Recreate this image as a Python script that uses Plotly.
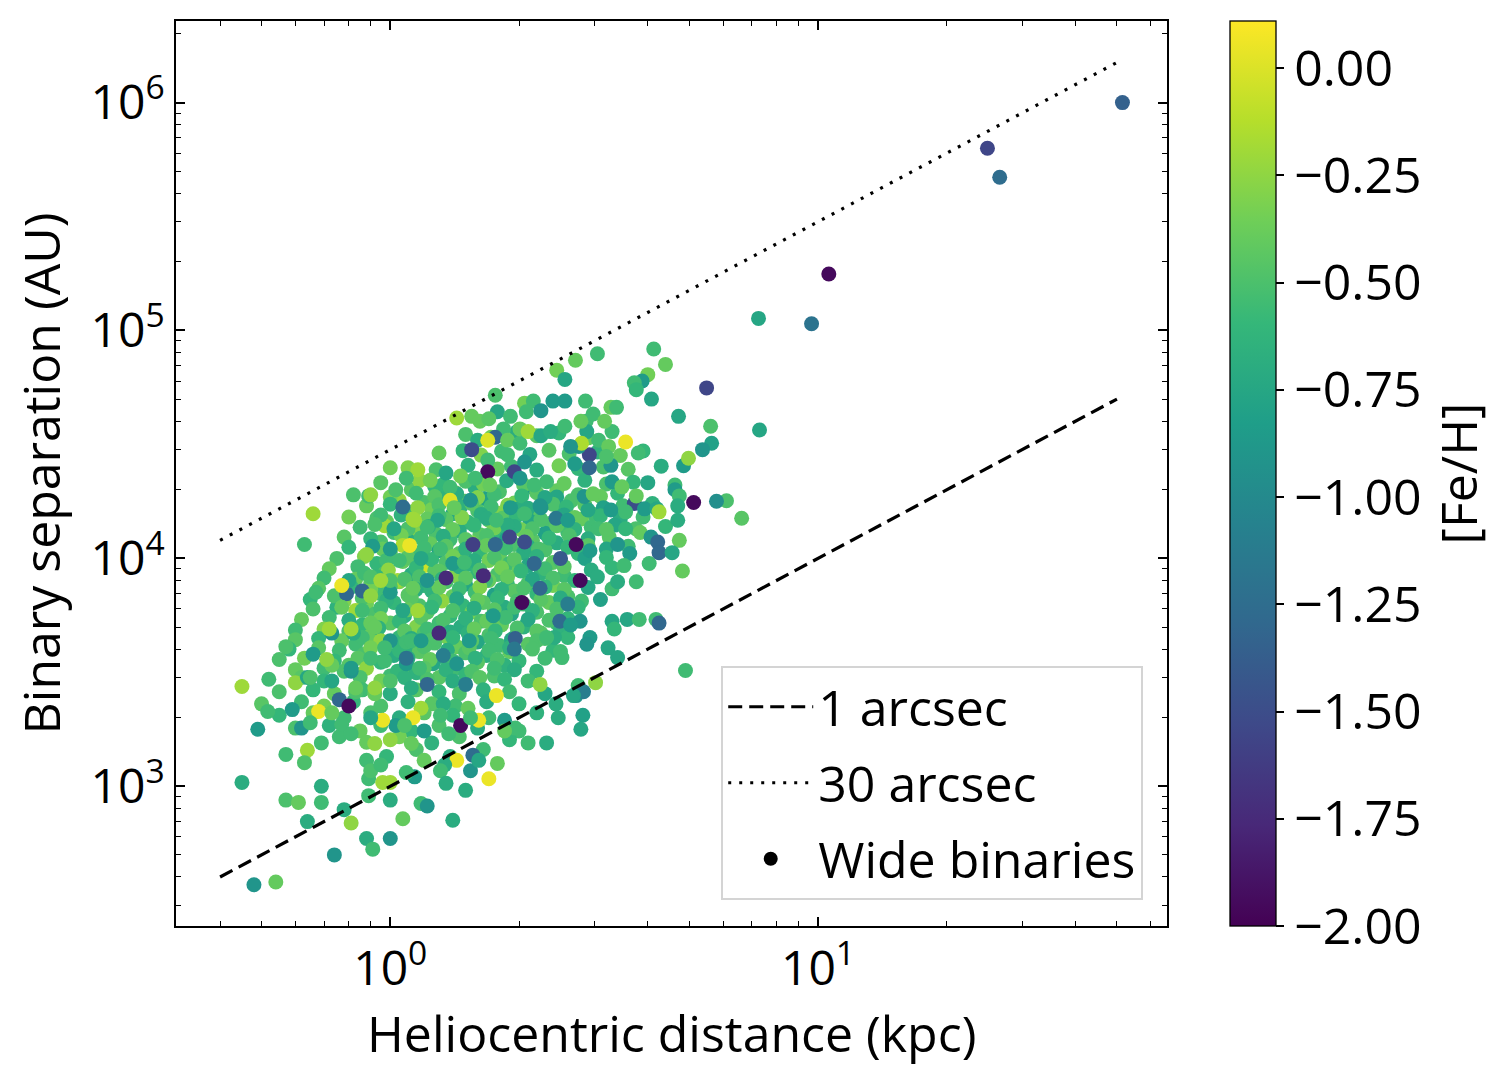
import plotly.graph_objects as go

# ---------------- data ----------------
# dense core of the cloud (drawn underneath)
core_dist = [
    1.12, 1.27, 1.42, 1.58, 1.8, 2.15, 2.45,
    1.05, 1.2, 1.33, 1.5, 1.66, 1.95, 2.3, 2.65,
    1.1, 1.25, 1.4, 1.6, 1.78, 2.0, 2.2, 2.5, 3.0,
    0.98, 1.18, 1.35, 1.52, 1.7, 1.9, 2.12, 2.38, 2.8,
    1.02, 1.15, 1.28, 1.45, 1.62, 1.82, 2.02, 2.3, 2.6,
    0.95, 1.1, 1.24, 1.38, 1.55, 1.72, 1.95, 2.15, 2.45,
    1.0, 1.14, 1.3, 1.45, 1.62, 1.8, 2.05, 2.3, 2.75,
    0.93, 1.07, 1.2, 1.35, 1.52, 1.7, 1.9, 2.1, 2.4,
    0.97, 1.12, 1.27, 1.42, 1.6, 1.78, 2.0, 2.25, 2.55,
    0.9, 1.05, 1.2, 1.35, 1.5, 1.7, 1.88, 2.1, 2.4,
    0.95, 1.1, 1.25, 1.4, 1.58, 1.75, 1.95, 2.2, 2.6,
    0.88, 1.02, 1.17, 1.32, 1.48, 1.65, 1.85, 2.05, 2.35,
    0.92, 1.08, 1.22, 1.38, 1.55, 1.72, 1.92, 2.2,
    0.86, 1.0, 1.15, 1.3, 1.46, 1.63, 1.82, 2.05, 2.45,
    0.9, 1.05, 1.2, 1.36, 1.52, 1.7, 1.95, 2.25,
    0.83, 0.98, 1.12, 1.27, 1.43, 1.6, 1.8, 2.1,
    0.87, 1.02, 1.17, 1.33, 1.5, 1.68, 1.9,
    0.8, 0.95, 1.1, 1.26, 1.42, 1.6, 1.85,
    0.85, 1.0, 1.15, 1.3, 1.5, 1.75,
]
core_sep = [
    2.0e4, 2.07e4, 1.94e4, 2.03e4, 1.96e4, 2.05e4, 1.98e4,
    1.8e4, 1.76e4, 1.85e4, 1.78e4, 1.83e4, 1.75e4, 1.82e4, 1.79e4,
    1.6e4, 1.64e4, 1.57e4, 1.62e4, 1.58e4, 1.65e4, 1.59e4, 1.63e4, 1.56e4,
    1.45e4, 1.42e4, 1.48e4, 1.44e4, 1.47e4, 1.41e4, 1.46e4, 1.43e4, 1.49e4,
    1.3e4, 1.33e4, 1.28e4, 1.32e4, 1.27e4, 1.31e4, 1.34e4, 1.29e4, 1.3e4,
    1.18e4, 1.2e4, 1.16e4, 1.21e4, 1.17e4, 1.19e4, 1.15e4, 1.2e4, 1.17e4,
    1.06e4, 1.04e4, 1.08e4, 1.05e4, 1.07e4, 1.03e4, 1.06e4, 1.09e4, 1.05e4,
    9.5e3, 9.7e3, 9.3e3, 9.6e3, 9.4e3, 9.8e3, 9.5e3, 9.3e3, 9.6e3,
    8.6e3, 8.5e3, 8.8e3, 8.4e3, 8.7e3, 8.5e3, 8.9e3, 8.6e3, 8.4e3,
    7.8e3, 7.9e3, 7.6e3, 7.9e3, 7.7e3, 8.0e3, 7.7e3, 7.8e3, 7.6e3,
    7.0e3, 6.9e3, 7.2e3, 6.8e3, 7.1e3, 6.9e3, 7.2e3, 7.0e3, 6.8e3,
    6.3e3, 6.4e3, 6.2e3, 6.5e3, 6.2e3, 6.4e3, 6.1e3, 6.3e3, 6.4e3,
    5.7e3, 5.6e3, 5.8e3, 5.6e3, 5.8e3, 5.5e3, 5.7e3, 5.8e3,
    5.1e3, 5.2e3, 5.0e3, 5.2e3, 5.0e3, 5.3e3, 5.1e3, 5.0e3, 5.2e3,
    4.6e3, 4.5e3, 4.7e3, 4.5e3, 4.7e3, 4.6e3, 4.5e3, 4.7e3,
    4.2e3, 4.3e3, 4.1e3, 4.25e3, 4.1e3, 4.3e3, 4.15e3, 4.2e3,
    3.8e3, 3.75e3, 3.9e3, 3.7e3, 3.85e3, 3.75e3, 3.9e3,
    3.4e3, 3.5e3, 3.35e3, 3.45e3, 3.3e3, 3.5e3, 3.4e3,
    3.1e3, 3.05e3, 3.15e3, 3.0e3, 3.1e3, 3.05e3,
]
core_feh = [
    -0.45, -0.6, -0.3, -0.7, -0.5, -0.8, -0.4,
    -0.25, -0.5, -0.65, -0.45, -0.8, -0.35, -0.6, -0.5,
    -0.55, -0.35, -0.75, -0.5, -0.3, -0.7, -0.45, -0.65, -0.55,
    -0.4, -0.65, -0.45, -0.6, -0.4, -0.55, -0.75, -0.5, -0.4,
    -0.55, -0.3, -0.5, -0.7, -0.45, -0.6, -0.35, -0.8, -0.55,
    -0.5, -0.7, -0.4, -0.55, -0.3, -0.65, -0.5, -0.45, -0.7,
    -0.35, -0.55, -0.8, -0.45, -0.6, -0.4, -0.7, -0.5, -0.6,
    -0.6, -0.4, -0.05, -0.5, -0.65, -0.35, -0.55, -0.75, -0.45,
    -0.5, -0.7, -0.45, -0.3, -0.6, -0.5, -0.4, -0.65, -0.55,
    -0.45, -0.3, -0.6, -0.5, -0.75, -0.4, -0.6, -0.5, -0.35,
    -0.55, -0.45, -0.65, -0.4, -0.55, -0.8, -0.45, -0.6, -0.5,
    -0.35, -0.6, -0.5, -0.25, -0.6, -0.45, -0.7, -0.55, -0.4,
    -0.5, -0.7, -0.45, -0.6, -0.35, -0.55, -0.75, -0.5,
    -0.6, -0.45, -0.3, -0.55, -0.7, -0.5, -0.4, -0.65, -0.55,
    -0.4, -0.6, -0.5, -0.35, -0.65, -0.5, -0.7, -0.45,
    -0.55, -0.35, -0.65, -0.5, -0.4, -0.75, -0.55, -0.45,
    -0.5, -0.7, -0.45, -0.6, -0.5, -0.65, -0.4,
    -0.45, -0.6, -0.4, -0.75, -0.55, -0.45, -0.65,
    -0.3, -0.55, -0.65, -0.45, -0.6, -0.5,
]

# second layer of the crowded cloud, between the rows above
fill_dist = [
    1.5, 1.72, 1.98, 2.2, 2.48, 2.9, 3.3,
    1.3, 1.48, 1.63, 1.82, 2.12, 2.35, 2.62, 3.05, 3.45, 3.9,
    1.1, 1.28, 1.52, 1.78, 1.92, 2.2, 2.48, 2.75, 3.15, 3.6, 4.3,
    0.95, 1.17, 1.33, 1.5, 1.65, 1.87, 2.05, 2.32, 2.55, 2.85, 3.2, 3.7,
    0.82, 1.0, 1.15, 1.27, 1.43, 1.6, 1.75, 2.03, 2.2, 2.45, 2.75, 3.1, 3.4,
    0.88, 1.0, 1.16, 1.3, 1.46, 1.55, 1.72, 1.88, 2.1, 2.4, 2.58, 2.85, 3.15, 3.5, 4.1,
    0.8, 0.93, 1.06, 1.22, 1.3, 1.47, 1.63, 1.83, 1.97, 2.25, 2.55, 2.7, 3.1, 3.45, 3.9,
    0.85, 0.97, 1.1, 1.23, 1.4, 1.57, 1.75, 1.95, 2.15, 2.45, 2.7, 2.95, 3.35, 3.75, 4.4,
    0.78, 0.9, 1.06, 1.18, 1.33, 1.5, 1.68, 1.87, 2.08, 2.35, 2.62, 2.9, 3.25,
    0.8, 0.96, 1.07, 1.2, 1.35, 1.5, 1.68, 1.86, 2.1, 2.22, 2.6, 2.9, 3.2, 3.6,
    0.75, 0.87, 0.98, 1.1, 1.25, 1.4, 1.57, 1.75, 1.95, 2.2, 2.5, 2.85, 3.2,
    0.72, 0.84, 0.99, 1.15, 1.3, 1.45, 1.62, 1.82, 2.02, 2.3, 2.55, 2.95, 3.3,
    0.7, 0.83, 0.93, 1.04, 1.17, 1.32, 1.5, 1.67, 1.88, 2.15, 2.4, 2.7, 3.05,
    0.68, 0.81, 0.9, 1.0, 1.15, 1.3, 1.45, 1.62, 1.82, 2.05, 2.3, 2.55, 2.9, 3.3,
    0.65, 0.78, 0.86, 0.98, 1.12, 1.27, 1.43, 1.6, 1.78, 1.98, 2.25, 2.5, 2.8, 3.1,
    0.66, 0.75, 0.83, 0.95, 1.1, 1.25, 1.4, 1.57, 1.75, 1.95, 2.15, 2.45, 2.75,
    0.62, 0.72, 0.8, 0.95, 1.05, 1.18, 1.33, 1.5, 1.68, 1.86, 2.1, 2.35, 2.6,
    0.6, 0.7, 0.8, 0.94, 1.08, 1.22, 1.38, 1.57, 1.76, 1.98, 2.2, 2.5,
    0.6, 0.68, 0.77, 0.86, 0.95, 1.12, 1.25, 1.4, 1.55, 1.72, 1.92, 2.2, 2.6,
    0.58, 0.68, 0.76, 0.9, 1.05, 1.2, 1.36, 1.53, 1.7, 1.9, 2.15, 2.4,
    0.55, 0.63, 0.74, 0.84, 0.97, 1.1, 1.24, 1.4, 1.58, 1.78, 2.0, 2.3,
    0.6, 0.7, 0.78, 0.88, 1.04, 1.2, 1.35, 1.55, 1.75, 1.95, 2.2,
    0.52, 0.62, 0.7, 0.85, 0.95, 1.08, 1.22, 1.4, 1.62, 1.85, 2.1,
    0.55, 0.66, 0.74, 0.86, 1.0, 1.15, 1.3, 1.45, 1.65, 1.9, 2.3,
    0.5, 0.62, 0.7, 0.82, 0.95, 1.1, 1.25, 1.42, 1.68, 2.0,
    0.55, 0.66, 0.78, 0.9, 1.05, 1.2, 1.4, 1.7, 2.2,
    0.6, 0.72, 0.85, 0.95, 1.12, 1.3, 1.6, 2.0,
    0.76, 1.05, 1.25, 1.45, 1.9,
    0.98, 1.15, 1.38, 1.65,
]
fill_sep = [
    3.5e4, 3.4e4, 3.6e4, 3.45e4, 3.55e4, 3.38e4, 3.6e4,
    2.9e4, 2.97e4, 2.84e4, 2.95e4, 2.86e4, 2.98e4, 2.88e4, 2.93e4, 2.83e4, 2.96e4,
    2.5e4, 2.45e4, 2.56e4, 2.47e4, 2.53e4, 2.44e4, 2.55e4, 2.48e4, 2.52e4, 2.46e4, 2.54e4,
    2.15e4, 2.2e4, 2.11e4, 2.18e4, 2.12e4, 2.19e4, 2.1e4, 2.17e4, 2.13e4, 2.2e4, 2.12e4, 2.16e4,
    1.9e4, 1.86e4, 1.93e4, 1.87e4, 1.92e4, 1.85e4, 1.91e4, 1.88e4, 1.94e4, 1.86e4, 1.9e4, 1.87e4, 1.93e4,
    1.7e4, 1.73e4, 1.67e4, 1.72e4, 1.68e4, 1.74e4, 1.69e4, 1.71e4, 1.66e4, 1.73e4, 1.68e4, 1.72e4, 1.67e4, 1.7e4, 1.74e4,
    1.52e4, 1.5e4, 1.55e4, 1.49e4, 1.54e4, 1.51e4, 1.56e4, 1.5e4, 1.53e4, 1.48e4, 1.55e4, 1.51e4, 1.54e4, 1.49e4, 1.52e4,
    1.37e4, 1.39e4, 1.35e4, 1.38e4, 1.34e4, 1.4e4, 1.36e4, 1.38e4, 1.35e4, 1.39e4, 1.34e4, 1.37e4, 1.4e4, 1.35e4, 1.38e4,
    1.24e4, 1.22e4, 1.26e4, 1.23e4, 1.25e4, 1.21e4, 1.26e4, 1.22e4, 1.25e4, 1.23e4, 1.26e4, 1.22e4, 1.24e4,
    1.12e4, 1.1e4, 1.14e4, 1.11e4, 1.13e4, 1.1e4, 1.14e4, 1.11e4, 1.13e4, 1.1e4, 1.12e4, 1.14e4, 1.1e4, 1.13e4,
    1.0e4, 1.02e4, 9.8e3, 1.01e4, 9.9e3, 1.02e4, 9.8e3, 1.01e4, 9.9e3, 1.02e4, 9.8e3, 1.0e4, 1.01e4,
    9.0e3, 9.2e3, 8.9e3, 9.1e3, 8.8e3, 9.2e3, 8.9e3, 9.1e3, 8.8e3, 9.0e3, 9.2e3, 8.9e3, 9.1e3,
    8.2e3, 8.1e3, 8.3e3, 8.0e3, 8.3e3, 8.1e3, 8.2e3, 8.0e3, 8.3e3, 8.1e3, 8.2e3, 8.0e3, 8.3e3,
    7.4e3, 7.5e3, 7.3e3, 7.5e3, 7.3e3, 7.45e3, 7.35e3, 7.5e3, 7.3e3, 7.4e3, 7.5e3, 7.3e3, 7.45e3, 7.35e3,
    6.6e3, 6.5e3, 6.7e3, 6.55e3, 6.7e3, 6.5e3, 6.65e3, 6.55e3, 6.7e3, 6.5e3, 6.6e3, 6.7e3, 6.5e3, 6.6e3,
    6.0e3, 6.1e3, 5.9e3, 6.05e3, 5.95e3, 6.1e3, 5.9e3, 6.05e3, 5.95e3, 6.1e3, 5.9e3, 6.0e3, 6.1e3,
    5.4e3, 5.5e3, 5.35e3, 5.45e3, 5.3e3, 5.5e3, 5.35e3, 5.45e3, 5.3e3, 5.5e3, 5.4e3, 5.35e3, 5.45e3,
    4.85e3, 4.9e3, 4.8e3, 4.95e3, 4.8e3, 4.9e3, 4.75e3, 4.9e3, 4.8e3, 4.95e3, 4.8e3, 4.85e3,
    4.4e3, 4.45e3, 4.35e3, 4.5e3, 4.35e3, 4.45e3, 4.4e3, 4.5e3, 4.35e3, 4.45e3, 4.4e3, 4.35e3, 4.5e3,
    4.0e3, 4.05e3, 3.95e3, 4.05e3, 3.95e3, 4.1e3, 3.95e3, 4.05e3, 3.95e3, 4.05e3, 4.0e3, 3.95e3,
    3.6e3, 3.65e3, 3.55e3, 3.65e3, 3.55e3, 3.65e3, 3.6e3, 3.55e3, 3.65e3, 3.6e3, 3.55e3, 3.65e3,
    3.25e3, 3.3e3, 3.2e3, 3.3e3, 3.2e3, 3.3e3, 3.25e3, 3.2e3, 3.3e3, 3.25e3, 3.2e3,
    2.95e3, 3.0e3, 2.9e3, 3.0e3, 2.9e3, 3.0e3, 2.95e3, 2.9e3, 3.0e3, 2.95e3, 2.9e3,
    2.6e3, 2.65e3, 2.55e3, 2.65e3, 2.55e3, 2.65e3, 2.6e3, 2.55e3, 2.65e3, 2.6e3, 2.55e3,
    2.3e3, 2.35e3, 2.25e3, 2.35e3, 2.25e3, 2.35e3, 2.3e3, 2.25e3, 2.35e3, 2.3e3,
    2.05e3, 2.1e3, 2.0e3, 2.1e3, 2.0e3, 2.1e3, 2.05e3, 2.0e3, 2.1e3,
    1.8e3, 1.85e3, 1.75e3, 1.85e3, 1.75e3, 1.85e3, 1.8e3, 1.75e3,
    1.65e3, 1.65e3, 1.55e3, 1.65e3, 1.6e3,
    1.35e3, 1.45e3, 1.35e3, 1.45e3,
]
fill_feh = [
    -0.5, -0.35, -0.7, -0.45, -0.6, -0.4, -0.55,
    -0.4, -0.6, -0.3, -0.55, -0.75, -0.45, -0.5, -0.65, -0.4, -0.6,
    -0.3, -0.5, -0.65, -0.4, -0.55, -0.7, -0.35, -0.6, -0.5, -0.45, -0.7,
    -0.45, -0.25, -0.6, -0.5, -0.35, -0.7, -0.45, -0.55, -0.4, -0.65, -0.5, -0.6,
    -0.5, -0.35, -0.55, -0.45, -0.7, -0.3, -0.55, -0.6, -0.45, -0.75, -0.5, -0.4, -0.6,
    -0.4, -0.6, -0.25, -0.5, -0.65, -0.45, -0.55, -0.3, -0.7, -0.5, -0.6, -0.45, -0.8, -0.55, -0.65,
    -0.35, -0.5, -0.65, -0.4, -0.55, -0.3, -0.7, -0.45, -0.6, -0.5, -0.75, -0.4, -0.6, -0.7, -0.55,
    -0.55, -0.2, -0.5, -0.65, -0.4, -0.6, -0.35, -0.7, -0.5, -0.45, -0.65, -0.55, -0.75, -0.5, -0.6,
    -0.45, -0.6, -0.35, -0.55, -0.7, -0.45, -0.5, -0.8, -0.4, -0.6, -0.5, -0.7, -0.45,
    -0.6, -0.4, -0.15, -0.55, -0.45, -0.65, -0.4, -0.55, -0.7, -0.5, -0.6, -0.45, -0.75, -0.55,
    -0.5, -0.3, -0.55, -0.45, -0.6, -0.35, -0.7, -0.5, -0.45, -0.65, -0.55, -0.8, -0.6,
    -0.4, -0.55, -0.25, -0.6, -0.45, -0.7, -0.5, -0.35, -0.6, -0.55, -0.45, -0.7, -0.6,
    -0.55, -0.4, -0.6, -0.2, -0.5, -0.65, -0.45, -0.55, -0.4, -0.75, -0.5, -0.6, -0.7,
    -0.45, -0.6, -0.35, -0.5, -0.7, -0.4, -0.55, -0.3, -0.65, -0.5, -0.6, -0.45, -0.75, -0.55,
    -0.6, -0.3, -0.5, -0.65, -0.45, -0.55, -0.75, -0.4, -0.6, -0.5, -0.45, -0.7, -0.55, -0.8,
    -0.5, -0.65, -0.2, -0.55, -0.4, -0.6, -0.5, -0.7, -0.45, -0.55, -0.65, -0.5, -0.6,
    -0.4, -0.55, -0.7, -0.35, -0.6, -0.45, -0.5, -0.65, -0.4, -0.55, -0.75, -0.5, -0.6,
    -0.55, -0.3, -0.5, -0.65, -0.45, -0.55, -0.7, -0.4, -0.6, -0.5, -0.45, -0.65,
    -0.45, -0.6, -0.4, -0.55, -0.25, -0.7, -0.5, -0.6, -0.45, -0.55, -0.75, -0.5, -0.6,
    -0.6, -0.45, -0.55, -0.35, -0.6, -0.5, -0.7, -0.45, -0.55, -0.65, -0.5, -0.6,
    -0.5, -0.35, -0.6, -0.45, -0.55, -0.7, -0.4, -0.55, -0.65, -0.5, -0.6, -0.55,
    -0.4, -0.55, -0.5, -0.25, -0.6, -0.45, -0.65, -0.5, -0.55, -0.7, -0.6,
    -0.55, -0.45, -0.6, -0.5, -0.35, -0.65, -0.5, -0.7, -0.45, -0.6, -0.55,
    -0.5, -0.6, -0.4, -0.55, -0.7, -0.45, -0.6, -0.5, -0.65, -0.55, -0.75,
    -0.45, -0.55, -0.35, -0.6, -0.5, -0.65, -0.45, -0.55, -0.7, -0.6,
    -0.6, -0.4, -0.55, -0.5, -0.7, -0.45, -0.6, -0.55, -0.65,
    -0.5, -0.65, -0.4, -0.55, -0.6, -0.5, -0.7, -0.55,
    -0.55, -0.35, -0.65, -0.5, -0.6,
    -0.6, -0.5, -0.7, -0.55,
]

# individually readable binaries (drawn on top)
field_dist = [
    51.5, 24.9, 26.6, 10.6, 7.26, 9.66, 5.49, 7.3, 6.63, 6.11,
    5.79, 5.12, 5.64, 5.37, 5.61, 4.72, 4.85, 4.9, 4.82, 4.13,
    4.4, 3.05, 4.0, 3.88, 3.72, 3.76, 4.08, 4.98, 3.55, 3.8,
    3.28, 2.92, 2.92, 3.3, 3.48, 4.0, 4.63, 4.63, 4.74, 4.7,
    4.7, 4.74, 3.72, 3.76, 3.93, 4.2, 4.25, 3.28, 3.55, 2.9,
    2.84, 2.98, 3.07, 3.2, 3.55, 3.84, 4.07, 4.22, 2.87, 2.98,
    3.17, 2.88, 3.28, 3.38, 2.86, 3.07, 3.24, 3.2, 2.76, 1.43,
    1.55, 1.76, 1.62, 1.78, 1.7, 1.91, 1.84, 1.76, 1.6, 1.55,
    1.69, 1.88, 2.01, 2.06, 2.16, 2.08, 2.01, 2.1, 2.25, 2.25,
    2.4, 2.56, 2.37, 2.56, 2.45, 2.56, 2.71, 2.79, 2.8, 2.64,
    1.69, 1.88, 2.06, 1.69, 1.95, 2.01, 1.35, 1.16, 1.24, 1.46,
    1.58, 1.71, 1.38, 2.17, 2.3, 2.25, 2.44, 2.6, 2.7, 2.72,
    2.5, 1.54, 1.38, 1.41, 1.91, 2.24, 2.06, 1.88, 1.68, 1.77,
    1.9, 2.06, 1.76, 1.56, 2.17, 1.35, 1.65, 2.78, 1.29, 1.22,
    1.14, 1.18, 1.4, 1.49, 1.31, 2.03, 1.3, 2.24, 2.49, 2.6,
    2.78, 1.96, 1.95, 1.74, 1.53, 1.33, 1.43, 1.5, 1.22, 1.77,
    2.24, 1.46, 1.56, 1.43, 2.5, 2.3, 2.42, 2.44, 2.47, 2.72,
    2.82, 2.32, 2.1, 1.96, 1.85, 1.85, 1.33, 1.31, 1.2, 1.37,
    1.52, 1.61, 1.54, 1.18, 1.78, 1.13, 1.54, 1.61, 1.34, 1.31,
    1.7, 1.35, 1.5, 1.2, 1.14, 1.09, 1.0, 1.0, 1.18, 1.22,
    1.4, 1.07, 1.0, 0.45, 0.517, 0.59, 0.49, 0.6, 0.64, 0.73,
    0.76, 0.8, 0.68, 0.73, 0.62, 0.65, 0.77, 0.81, 0.69, 0.64,
    0.57, 0.63, 0.45, 0.57, 0.61, 0.69, 0.69, 0.64, 0.78, 0.81,
    0.74, 0.48, 0.54, 0.88, 0.91, 0.89, 0.89, 0.96, 0.88, 0.9,
    0.95, 0.88, 0.92, 1.03, 0.96, 1.0, 1.08, 1.12, 0.9, 0.92,
    0.83, 0.81, 0.66, 0.63, 1.0, 1.09, 1.03, 0.89, 0.9, 1.07,
    0.95, 0.92, 1.02, 1.13, 0.91, 0.88, 1.0, 1.05, 1.11, 0.67,
    0.74, 0.79, 0.86, 0.8, 0.77, 0.87, 0.9, 0.77, 0.86, 0.9,
    1.0, 1.0, 1.07, 0.73, 0.82, 0.72, 0.81, 0.57, 0.66, 0.9,
    1.0, 1.09, 1.09, 0.73, 0.81, 0.9, 0.97, 0.95, 1.08, 1.13,
    1.22, 0.92, 1.16, 1.12, 1.18, 0.71, 1.09, 1.17, 0.65, 0.83,
    0.92, 1.0, 1.12, 2.93, 3.4, 3.63, 3.52, 3.4, 3.76, 4.03,
    4.25, 4.56, 2.64, 3.3, 3.34, 3.58, 3.82, 4.18, 4.25, 2.93,
    2.88, 3.23, 3.4, 2.52, 2.32, 3.02, 2.75, 2.83, 2.68, 2.79,
]
field_sep = [
    1.0e6, 6.3e5, 4.7e5, 1.77e5, 1.13e5, 1.07e5, 5.6e4, 3.66e4, 1.5e4, 1.79e4,
    1.78e4, 1.76e4, 3.2e4, 3.0e4, 3.8e4, 4.2e4, 2.55e4, 3.22e3, 8.8e3, 8.3e4,
    7.1e4, 7.9e4, 6.4e4, 6.0e4, 5.9e4, 5.5e4, 5.0e4, 2.75e4, 3.24e4, 2.9e4,
    2.56e4, 2.85e4, 2.5e4, 2.17e4, 2.06e4, 2.15e4, 2.1e4, 2.0e4, 1.88e4, 1.7e4,
    1.47e4, 1.2e4, 1.74e4, 1.88e4, 1.65e4, 1.65e4, 1.6e4, 1.63e4, 1.6e4, 1.63e4,
    1.87e4, 1.92e4, 1.35e4, 1.34e4, 1.35e4, 1.3e4, 1.24e4, 1.18e4, 4.0e4, 4.3e4,
    4.0e4, 3.6e4, 4.6e4, 4.6e4, 4.9e4, 3.3e4, 3.1e4, 2.8e4, 3.1e4, 4.13e4,
    4.2e4, 5.2e4, 4.0e4, 4.4e4, 4.1e4, 4.2e4, 3.7e4, 3.4e4, 3.3e4, 3.0e4,
    3.3e4, 3.3e4, 3.2e4, 4.8e4, 4.9e4, 4.4e4, 3.7e4, 3.6e4, 4.45e4, 3.45e4,
    4.9e4, 4.9e4, 3.6e4, 3.8e4, 6.7e4, 6.1e4, 7.4e4, 4.0e4, 3.2e4, 3.1e4,
    2.7e4, 2.85e4, 2.65e4, 2.4e4, 2.4e4, 2.25e4, 2.37e4, 2.45e4, 2.2e4, 2.3e4,
    2.25e4, 2.1e4, 2.05e4, 2.1e4, 1.85e4, 1.67e4, 1.5e4, 1.47e4, 2.6e4, 1.15e4,
    1.0e4, 1.8e4, 1.8e4, 1.67e4, 1.67e4, 1.7e4, 1.57e4, 1.4e4, 1.5e4, 1.47e4,
    1.24e4, 1.18e4, 1.15e4, 1.15e4, 9.5e3, 8.2e3, 8.4e3, 8.0e3, 1.47e4, 1.37e4,
    1.47e4, 1.0e4, 9.5e3, 9.6e3, 1.1e4, 6.4e3, 4.7e3, 7.4e3, 5.3e3, 6.3e3,
    5.3e3, 4.45e3, 4.0e3, 5.6e3, 4.35e3, 3.75e3, 3.45e3, 2.8e3, 2.8e3, 2.5e3,
    2.8e3, 1.85e3, 1.37e3, 1.3e3, 3.9e3, 4.45e3, 4.5e3, 2.3e3, 2.0e3, 2.5e3,
    2.05e3, 1.55e3, 1.55e3, 1.8e3, 1.95e3, 1.75e3, 2.3e3, 2.05e3, 1.75e3, 1.7e3,
    2.2e3, 1.95e3, 2.0e3, 2.2e3, 1.26e3, 2.0e3, 1.17e3, 1.3e3, 1.24e3, 1.17e3,
    1.08e3, 1.03e3, 960, 1.3e3, 1.1e3, 1.15e3, 1.04e3, 870, 840, 820,
    710, 720, 590, 2.74e3, 2.13e3, 2.17e3, 1.78e3, 2.85e3, 3.0e3, 2.9e3,
    2.4e3, 2.25e3, 2.13e3, 2.1e3, 1.8e3, 1.9e3, 1.87e3, 1.7e3, 1.55e3, 1.44e3,
    1.38e3, 1.27e3, 1.04e3, 870, 850, 1.0e3, 850, 700, 790, 690,
    500, 370, 380, 590, 530, 1.08e3, 910, 1.04e3, 1.3e3, 1.17e3,
    1.24e3, 1.56e3, 1.54e3, 1.85e3, 1.95e3, 1.6e3, 1.85e3, 1.54e3, 2.0e3, 2.55e3,
    2.6e3, 3.2e3, 1.57e4, 1.15e4, 2.5e4, 2.25e4, 2.0e4, 1.88e4, 1.9e4, 1.68e4,
    1.55e4, 1.41e4, 1.35e4, 1.49e4, 1.13e4, 1.04e4, 1.1e4, 9.8e3, 1.14e4, 7.1e3,
    6.85e3, 7.0e3, 7.2e3, 8.0e3, 7.6e3, 8.6e3, 8.3e3, 6.1e3, 5.9e3, 6.85e3,
    7.1e3, 8.0e3, 5.9e3, 4.7e3, 4.7e3, 4.9e3, 4.9e3, 4.1e3, 3.8e3, 5.2e3,
    4.35e3, 4.3e3, 3.45e3, 3.4e3, 3.3e3, 3.65e3, 4.05e3, 8.0e3, 8.1e3, 7.4e3,
    8.0e3, 5.0e3, 5.9e3, 4.35e3, 4.35e3, 3.6e3, 3.65e3, 3.3e3, 3.0e3, 2.7e3,
    2.7e3, 2.9e3, 2.7e3, 1.08e4, 1.15e4, 1.05e4, 9.3e3, 7.9e3, 7.9e3, 9.5e3,
    1.06e4, 1.06e4, 5.1e3, 5.3e3, 4.9e3, 5.4e3, 5.4e3, 5.4e3, 5.2e3, 4.5e3,
    4.2e3, 4.05e3, 3.67e3, 3.67e3, 4.5e3, 2.85e3, 2.77e3, 2.6e3, 2.5e3, 1.78e3,
]
field_feh = [
    -1.35, -1.55, -1.25, -1.95, -0.75, -1.2, -1.55, -0.75, -0.45, -0.5,
    -0.95, -1.95, -0.8, -0.9, -0.5, -0.75, -0.85, -0.55, -0.4, -0.55,
    -0.4, -0.55, -0.35, -0.85, -0.55, -0.6, -0.75, -0.25, 0.05, -0.55,
    -0.9, -1.55, -1.3, -0.85, -0.4, -0.75, -0.55, -0.85, -0.55, -0.7,
    -0.7, -0.4, -1.5, -0.4, -0.85, -0.75, -0.2, -0.85, -0.55, -0.75,
    -0.9, -0.4, -0.55, -0.45, -0.6, -0.4, -0.9, -1.3, -0.55, -0.55,
    -0.4, -0.75, -0.4, -0.55, -0.55, -0.55, -0.4, -0.5, -0.9, -0.2,
    -0.4, -0.5, -0.4, -0.75, -0.45, -0.55, -0.55, -1.3, -0.7, -1.5,
    0.0, -0.4, -0.55, -0.35, -0.55, -0.55, -0.4, -0.2, -0.9, -0.75,
    -0.85, -0.85, -0.7, -0.55, -0.35, -0.75, -0.4, -0.4, -0.15, -0.9,
    -0.55, -0.55, -0.9, -1.95, -1.55, -0.9, -0.75, -0.2, -0.35, -0.35,
    -0.55, -0.4, -0.55, -0.55, -0.75, -0.9, -1.15, -0.85, -0.85, -1.95,
    -1.4, -0.9, 0.0, -0.4, -0.85, -0.9, -0.55, -0.7, -0.7, -0.55,
    -1.55, -1.5, -1.3, -1.6, -1.3, -1.75, -1.75, -1.95, -0.75, -0.55,
    -0.2, -0.75, -0.85, -0.55, -0.55, -1.95, -1.75, -1.3, -1.25, -1.1,
    -0.9, -1.35, -1.15, -0.85, -0.85, -1.1, -0.9, -1.1, -1.3, 0.05,
    -0.25, -1.95, -1.25, 0.05, -0.55, -0.5, -0.7, -0.7, -0.7, -0.9,
    -0.8, -0.7, -0.55, -0.55, -0.85, -0.4, -0.7, -0.55, -0.85, -0.55,
    -0.4, 0.05, -0.55, -0.2, -0.4, 0.05, -0.9, -0.75, -0.7, -0.55,
    0.05, -0.7, -0.7, -0.4, -0.85, -0.55, -0.2, -0.7, -0.55, -0.9,
    -0.7, -0.4, -0.9, -0.2, -0.55, -0.85, -0.85, -0.25, -0.75, -0.75,
    -1.3, -1.95, 0.05, -0.4, -0.9, -0.55, -0.55, -0.55, -0.55, -0.2,
    -0.55, -0.5, -0.7, -0.5, -0.4, -0.7, -0.55, -0.7, -0.7, -0.25,
    -0.9, -0.9, -0.4, -0.7, -0.55, -0.55, -0.55, -0.2, -0.55, -0.5,
    -0.55, -0.4, -0.25, -0.85, 0.05, -0.25, -0.5, -0.4, -0.75, -0.4,
    -0.5, -0.9, -0.2, -0.55, -0.35, -0.55, -0.5, -0.55, -0.25, -1.25,
    -0.55, -0.5, -0.75, -0.2, -0.85, -0.25, -0.85, -0.55, 0.05, -0.55,
    -0.5, -1.3, -1.3, -0.75, 0.05, -0.55, -0.5, -0.4, -0.55, -0.25,
    -0.85, -0.5, -0.75, -0.9, -0.7, -0.2, -0.2, -0.5, -0.85, -0.4,
    -0.9, -0.55, -0.85, -0.4, -0.85, -0.55, -0.55, -0.2, -0.5, -0.4,
    -0.9, -0.4, -0.2, -0.55, -0.85, -0.25, -1.2, -0.55, -0.5, -0.4,
    -0.25, -0.5, -0.7, -0.85, -0.9, -0.85, -0.55, -0.7, -0.55, -0.55,
    -1.3, -0.75, -0.85, -0.75, -0.6, -0.75, -0.55, -0.55, -1.3, -0.85,
    -0.9, -0.75, -0.75, -0.55, -0.55, -0.25, -0.55, -1.1, -0.75, -0.75,
]

# angular-separation reference lines (separation = angle x distance)
line_dist = [0.4, 50.0]
sep_1arcsec = [400.0, 50000.0]
sep_30arcsec = [12000.0, 1.5e6]

# ticks
x_tickvals = [1, 10]
x_ticktext = ["10<sup>0</sup>", "10<sup>1</sup>"]
x_minor = [0.4, 0.5, 0.6, 0.7, 0.8, 0.9, 2, 3, 4, 5, 6, 7, 8, 9, 20, 30, 40, 50, 60]
y_tickvals = [1e3, 1e4, 1e5, 1e6]
y_ticktext = ["10<sup>3</sup>", "10<sup>4</sup>", "10<sup>5</sup>", "10<sup>6</sup>"]
y_minor = [300, 400, 500, 600, 700, 800, 900,
           2e3, 3e3, 4e3, 5e3, 6e3, 7e3, 8e3, 9e3,
           2e4, 3e4, 4e4, 5e4, 6e4, 7e4, 8e4, 9e4,
           2e5, 3e5, 4e5, 5e5, 6e5, 7e5, 8e5, 9e5, 2e6]
cb_tickvals = [0.0, -0.25, -0.5, -0.75, -1.0, -1.25, -1.5, -1.75, -2.0]
cb_ticktext = ["0.00", "\u22120.25", "\u22120.50", "\u22120.75", "\u22121.00",
               "\u22121.25", "\u22121.50", "\u22121.75", "\u22122.00"]

dist_kpc = core_dist + fill_dist + field_dist
sep_au = core_sep + fill_sep + field_sep
feh = core_feh + fill_feh + field_feh

FONT = "Open Sans"
FS = 50
TICK_FS = 48

fig = go.Figure()
fig.add_trace(go.Scatter(
    x=dist_kpc, y=sep_au, mode="markers", showlegend=False, hoverinfo="skip",
    marker=dict(
        size=15, color=feh, colorscale="Viridis", cmin=-2.0, cmax=0.11,
        line=dict(width=0),
        colorbar=dict(
            x=1.0636, xanchor="left", y=0.5, yanchor="middle",
            len=1.0, lenmode="fraction", thickness=46, thicknessmode="pixels",
            xpad=0, ypad=0,
            outlinewidth=1.3, outlinecolor="black",
            ticks="outside", ticklen=8, tickwidth=1.5, tickcolor="black",
            tickvals=cb_tickvals, ticktext=cb_ticktext,
            tickfont=dict(family=FONT, size=FS, color="black"),
            title=dict(text="[Fe/H]", side="right",
                       font=dict(family=FONT, size=FS, color="black")),
        ),
    ),
))
fig.add_trace(go.Scatter(
    x=line_dist, y=sep_1arcsec, mode="lines", name="1 arcsec", legendgroup="a",
    line=dict(color="black", width=3.2, dash="14px,7px"), hoverinfo="skip",
))
fig.add_trace(go.Scatter(
    x=line_dist, y=sep_30arcsec, mode="lines", name="30 arcsec", legendgroup="b",
    line=dict(color="black", width=3.2, dash="3px,8px"), hoverinfo="skip",
))
fig.add_trace(go.Scatter(
    x=[None], y=[None], mode="markers", name="Wide binaries", legendgroup="c",
    marker=dict(color="black", size=14),
))

axis_common = dict(
    type="log", showgrid=False, zeroline=False,
    showline=True, linecolor="black", linewidth=1.6, mirror="allticks",
    ticks="inside", ticklen=9, tickwidth=1.5, tickcolor="black",
    tickfont=dict(family=FONT, size=TICK_FS, color="black"),
)

fig.update_xaxes(
    **axis_common,
    range=[-0.501, 1.816],
    tickmode="array", tickvals=x_tickvals, ticktext=x_ticktext,
    minor=dict(tickmode="array", tickvals=x_minor, ticks="inside",
               ticklen=5, tickwidth=1.2, tickcolor="black", showgrid=False),
)
fig.update_yaxes(
    **axis_common,
    range=[2.387, 6.358],
    tickmode="array", tickvals=y_tickvals, ticktext=y_ticktext,
    minor=dict(tickmode="array", tickvals=y_minor, ticks="inside",
               ticklen=5, tickwidth=1.2, tickcolor="black", showgrid=False),
)

# axis titles placed as paper text so they sit where the original has them
fig.add_annotation(
    text="Heliocentric distance (kpc)", xref="paper", yref="paper",
    x=0.5, y=-0.118, xanchor="center", yanchor="middle", showarrow=False,
    font=dict(family=FONT, size=FS, color="black"),
)
fig.add_annotation(
    text="Binary separation (AU)", xref="paper", yref="paper",
    x=-0.1372, y=0.5, xanchor="center", yanchor="middle", showarrow=False,
    textangle=-90, font=dict(family=FONT, size=FS, color="black"),
)

# the page adds an 8 px body margin, so the margins are 8 px smaller on the top/left
fig.update_layout(
    width=1500, height=1073,
    margin=dict(l=168, r=341, t=11, b=155, pad=0),
    paper_bgcolor="white", plot_bgcolor="white",
    font=dict(family=FONT, size=FS, color="black"),
    legend=dict(
        x=0.976, xanchor="right", y=0.029, yanchor="bottom",
        bgcolor="rgba(255,255,255,0.85)", bordercolor="#d4d4d4", borderwidth=2,
        font=dict(family=FONT, size=FS, color="black"),
        itemwidth=85, traceorder="grouped", tracegroupgap=8,
    ),
)

fig.write_html("out.html")
